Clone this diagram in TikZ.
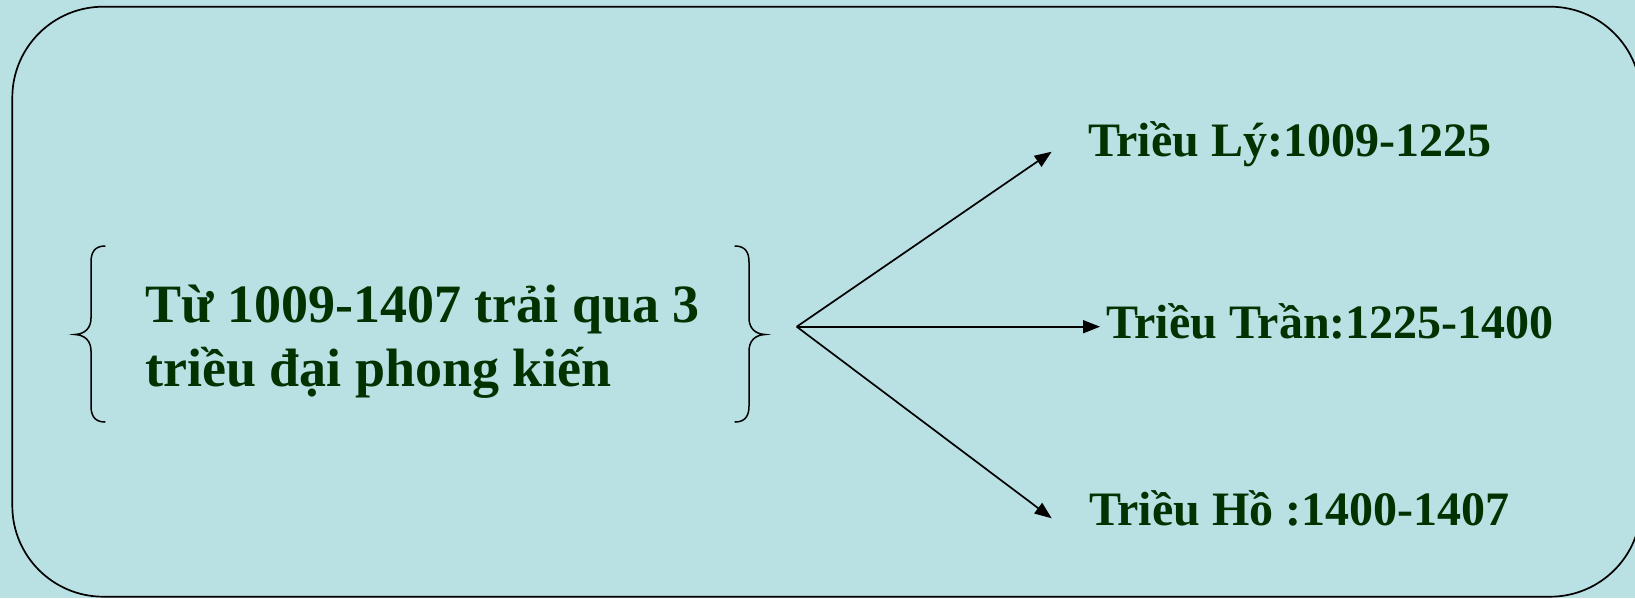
\documentclass[tikz,border=0pt]{standalone}
\usepackage{fontspec}
\setmainfont{Liberation Serif}
\usetikzlibrary{arrows.meta}
\definecolor{bg}{HTML}{B9E0E3}
\definecolor{txt}{HTML}{003300}
\begin{document}
\begin{tikzpicture}[x=1pt,y=-1pt,
  maintext/.style={anchor=base west, align=left, inner sep=0pt, text=txt,
    font=\fontsize{54}{64}\selectfont\bfseries},
  lbl/.style={anchor=base west, inner sep=0pt, text=txt,
    font=\fontsize{48}{58}\selectfont\bfseries},
  conn/.style={line width=1.7pt, -{Triangle[length=17pt,width=13pt]}},
  bracepath/.style={line width=1.5pt, line cap=round}]
\fill[bg] (0,0) rectangle (1635,598);
\useasboundingbox (0,0) rectangle (1635,598);
\draw[line width=1.7pt, rounded corners=91pt] (12.3,6.7) rectangle (1641,596.7);
% braces
\draw[bracepath] (105,246) .. controls (95,246) and (91,252) .. (91,262) -- (91,318)
  .. controls (91,328) and (85,334) .. (75,334.5)
  .. controls (85,335) and (91,341) .. (91,351) -- (91,406)
  .. controls (91,416) and (95,422) .. (105,422);
\draw[bracepath] (735,246) .. controls (745,246) and (749,252) .. (749,262) -- (749,318)
  .. controls (749,328) and (755,334) .. (765,334.5)
  .. controls (755,335) and (749,341) .. (749,351) -- (749,406)
  .. controls (749,416) and (745,422) .. (735,422);
% text
\node[maintext] (main) at (145,386.7) {Từ 1009-1407 trải qua 3\\triều đại phong kiến};
\node[lbl] (ly) at (1088,156.7) {Triều Lý:1009-1225};
\node[lbl] (tran) at (1106,338) {Triều Trần:1225-1400};
\node[lbl] (ho) at (1089,525) {Triều Hồ :1400-1407};
% connectors
\coordinate (src) at (796.7,326.7);
\coordinate (tly) at (1051.7,151.7);
\coordinate (ttran) at (1100,326.7);
\coordinate (tho) at (1051.7,518.3);
\draw[conn] (src) -- (tly);
\draw[conn] (src) -- (ttran);
\draw[conn] (src) -- (tho);
\end{tikzpicture}
\end{document}
